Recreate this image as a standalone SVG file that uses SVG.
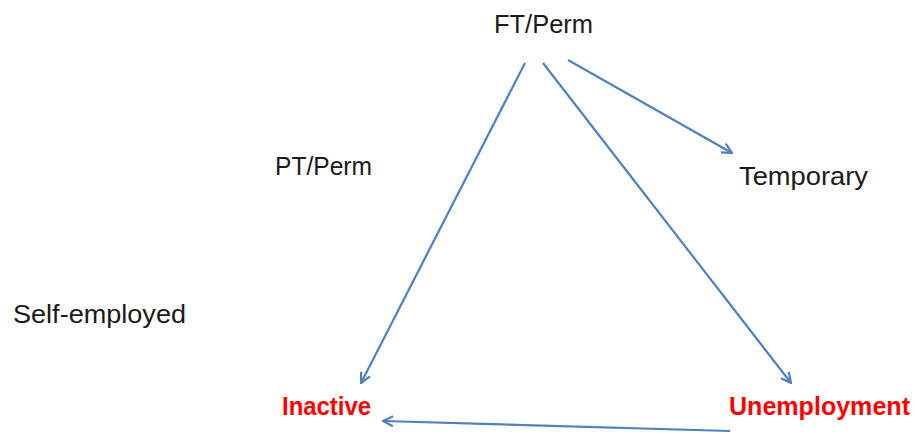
<svg xmlns="http://www.w3.org/2000/svg" width="915" height="434" viewBox="0 0 915 434">
<style>
.lbl{font-family:"Liberation Sans",Arial,sans-serif;font-size:26px;fill:#1a1a1a}
.red{font-family:"Liberation Sans",Arial,sans-serif;font-size:25px;font-weight:bold;fill:#ff0000}
.edge{stroke:#4f81bd;stroke-width:2.2;fill:none;marker-end:url(#ah)}
</style>
<defs>
<marker id="ah" viewBox="0 0 12 12" refX="11" refY="6" markerWidth="12" markerHeight="12" markerUnits="userSpaceOnUse" orient="auto">
<path d="M1,1 L11,6 L1,11" fill="none" stroke="#4f81bd" stroke-width="2.2" stroke-linejoin="miter"/>
</marker>
</defs>
<rect width="915" height="434" fill="#ffffff"/>
<g id="connectors">
<line class="edge" x1="525" y1="63" x2="361" y2="383"/>
<line class="edge" x1="543" y1="63" x2="791" y2="383"/>
<line class="edge" x1="568" y1="60" x2="732" y2="153"/>
<line class="edge" x1="730" y1="431" x2="383" y2="421"/>
</g>
<g id="ftperm"><text class="lbl" x="494" y="33" textLength="99" lengthAdjust="spacingAndGlyphs">FT/Perm</text></g>
<g id="temporary"><text class="lbl" x="739" y="185" textLength="129" lengthAdjust="spacingAndGlyphs">Temporary</text></g>
<g id="ptperm"><text class="lbl" x="275" y="175" textLength="97" lengthAdjust="spacingAndGlyphs">PT/Perm</text></g>
<g id="selfemployed"><text class="lbl" x="13" y="323" textLength="173" lengthAdjust="spacingAndGlyphs">Self-employed</text></g>
<g id="inactive"><text class="red" x="282" y="415" textLength="89" lengthAdjust="spacingAndGlyphs">Inactive</text></g>
<g id="unemployment"><text class="red" x="729" y="415" textLength="181" lengthAdjust="spacingAndGlyphs">Unemployment</text></g>
</svg>
